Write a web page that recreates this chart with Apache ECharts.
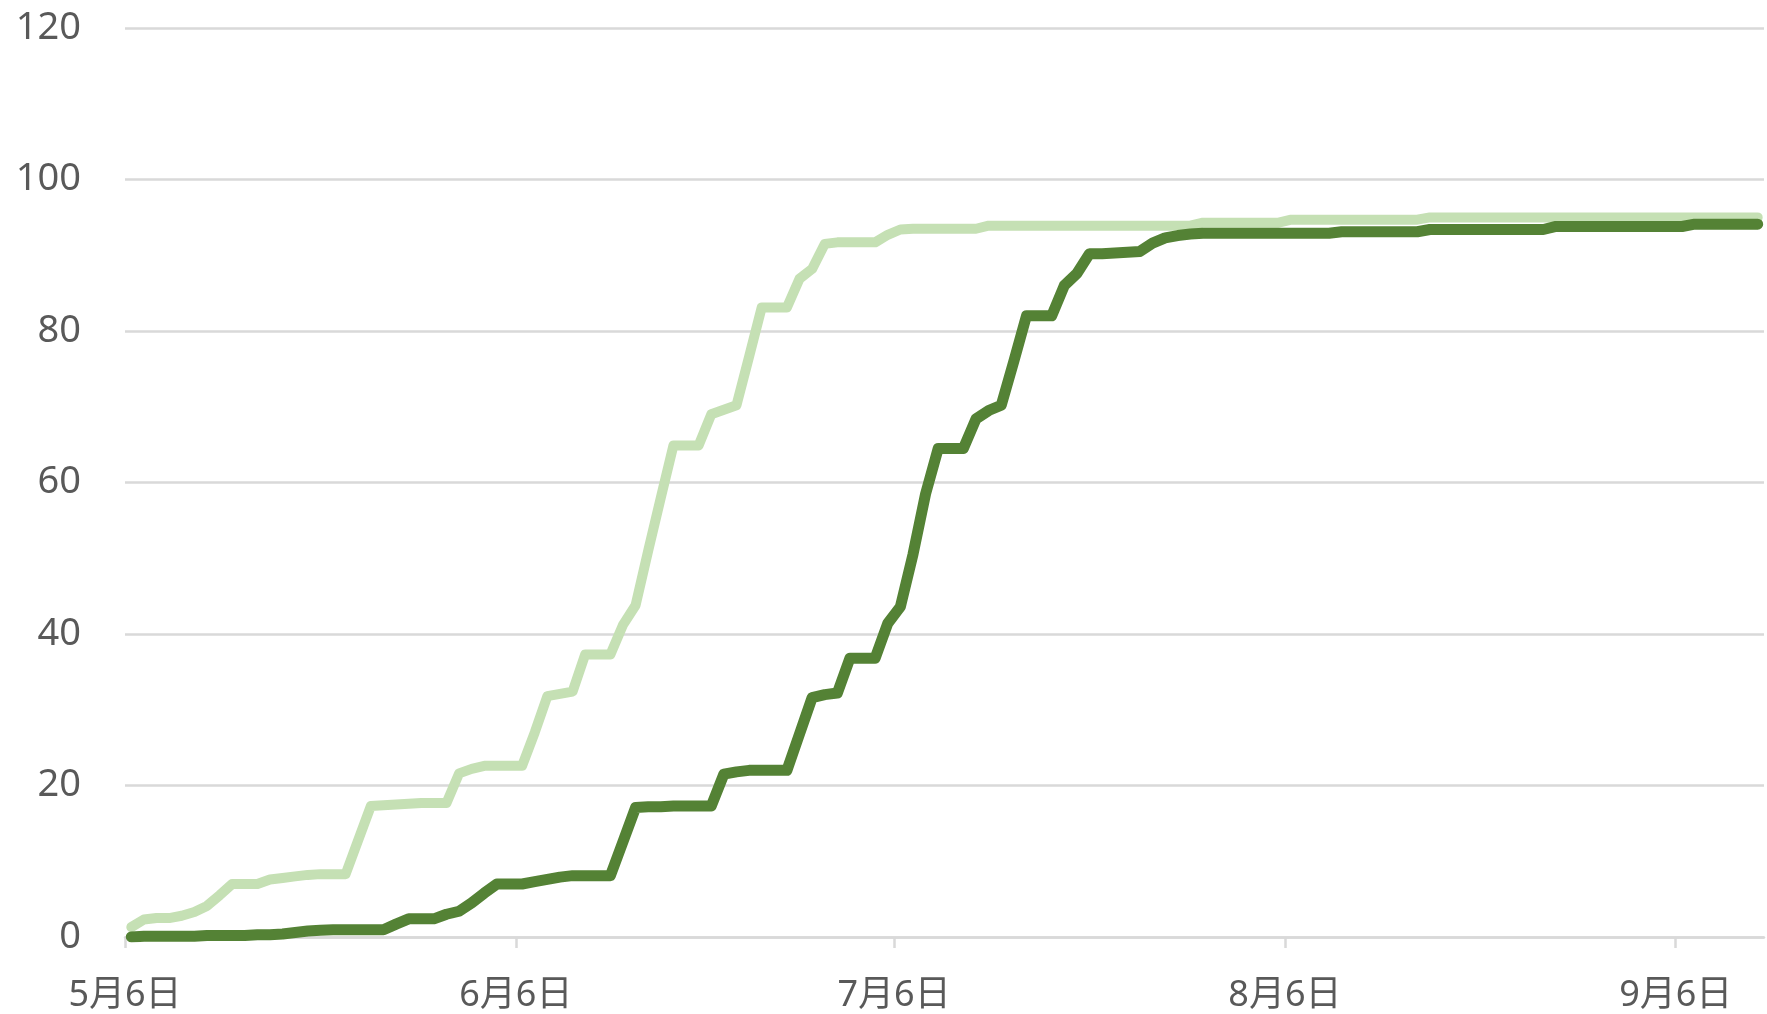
<!DOCTYPE html>
<html>
<head>
<meta charset="utf-8">
<script src="https://cdn.jsdelivr.net/npm/echarts@6/dist/echarts.min.js"></script>
<style>
  html, body { margin: 0; padding: 0; background: #fff; }
  #chart { width: 1767px; height: 1014px; }
</style>
</head>
<body>
<div id="chart"></div>
<script>
// 浅色线（先达到），每天一个值，从5月6日起
var lightValues = [
  1.3, 2.3, 2.5, 2.5, 2.8, 3.3, 4.1, 5.5, 7.0, 7.0,
  7.0, 7.6, 7.8, 8.0, 8.2, 8.3, 8.3, 8.3, 12.8, 17.3,
  17.4, 17.5, 17.6, 17.7, 17.7, 17.7, 21.6, 22.2, 22.6, 22.6,
  22.6, 22.6, 27.0, 31.8, 32.1, 32.4, 37.3, 37.3, 37.3, 41.2,
  43.8, 51.0, 58.0, 64.9, 64.9, 64.9, 69.0, 69.6, 70.2, 76.6,
  83.1, 83.1, 83.1, 86.9, 88.2, 91.5, 91.7, 91.7, 91.7, 91.7,
  92.7, 93.4, 93.5, 93.5, 93.5, 93.5, 93.5, 93.5, 93.9, 93.9,
  93.9, 93.9, 93.9, 93.9, 93.9, 93.9, 93.9, 93.9, 93.9, 93.9,
  93.9, 93.9, 93.9, 93.9, 93.9, 94.3, 94.3, 94.3, 94.3, 94.3,
  94.3, 94.3, 94.7, 94.7, 94.7, 94.7, 94.7, 94.7, 94.7, 94.7,
  94.7, 94.7, 94.7, 95.0, 95.0, 95.0, 95.0, 95.0, 95.0, 95.0,
  95.0, 95.0, 95.0, 95.0, 95.0, 95.0, 95.0, 95.0, 95.0, 95.0,
  95.0, 95.0, 95.0, 95.0, 95.0, 95.0, 95.0, 95.0, 95.0, 95.0
];
// 深色线
var darkValues = [
  0.0, 0.1, 0.1, 0.1, 0.1, 0.1, 0.2, 0.2, 0.2, 0.2,
  0.3, 0.3, 0.4, 0.6, 0.8, 0.9, 0.95, 0.95, 0.95, 0.95,
  0.95, 1.7, 2.4, 2.4, 2.4, 3.0, 3.4, 4.5, 5.8, 7.0,
  7.0, 7.0, 7.3, 7.6, 7.9, 8.1, 8.1, 8.1, 8.1, 12.6,
  17.1, 17.2, 17.2, 17.3, 17.3, 17.3, 17.3, 21.5, 21.8, 22.0,
  22.0, 22.0, 22.0, 26.8, 31.6, 32.0, 32.2, 36.8, 36.8, 36.8,
  41.4, 43.6, 50.5, 58.5, 64.5, 64.5, 64.5, 68.4, 69.5, 70.2,
  76.0, 82.0, 82.0, 82.0, 86.0, 87.6, 90.2, 90.2, 90.3, 90.4,
  90.5, 91.6, 92.3, 92.6, 92.8, 92.9, 92.9, 92.9, 92.9, 92.9,
  92.9, 92.9, 92.9, 92.9, 92.9, 92.9, 93.1, 93.1, 93.1, 93.1,
  93.1, 93.1, 93.1, 93.4, 93.4, 93.4, 93.4, 93.4, 93.4, 93.4,
  93.4, 93.4, 93.4, 93.8, 93.8, 93.8, 93.8, 93.8, 93.8, 93.8,
  93.8, 93.8, 93.8, 93.8, 94.1, 94.1, 94.1, 94.1, 94.1, 94.1
];

// 日期轴：5月6日 ~ 9月13日，每月6日一个刻度
var year = 2020, startMonth = 5, startDay = 6, axisDays = 130;
var tickDay = 6;
var yMax = 120, yStep = 20;

var DAY = 24 * 3600 * 1000;
var axisStart = Date.UTC(year, startMonth - 1, startDay);
var axisEnd = axisStart + axisDays * DAY;

// 横轴类目（仅用于刻度和标签）
var dayList = [];
for (var i = 0; i <= axisDays; i++) dayList.push(new Date(axisStart + i * DAY));
var categories = dayList.map(function (t) { return (t.getUTCMonth() + 1) + '月' + t.getUTCDate() + '日'; });
function isTick(index) { return dayList[index] && dayList[index].getUTCDate() === tickDay; }

// 每天的数据记在当天中午
function toPoints(values) {
  return values.map(function (v, k) { return [Date.UTC(year, startMonth - 1, startDay + k, 12), v]; });
}

var chart = echarts.init(document.getElementById('chart'));
var option = {
  animation: false,
  useUTC: true,
  backgroundColor: '#ffffff',
  grid: { left: 125, right: 3, top: 28, bottom: 74, containLabel: false },
  xAxis: [
    {
      type: 'category',
      data: categories,
      boundaryGap: false,
      axisLine: { show: true, lineStyle: { color: '#d9d9d9', width: 2.5 } },
      axisTick: {
        show: true,
        length: 11,
        interval: function (index) { return isTick(index); },
        lineStyle: { color: '#d9d9d9', width: 2.5 }
      },
      axisLabel: {
        interval: function (index) { return isTick(index); },
        margin: 41,
        color: '#595959',
        fontSize: 36,
        fontFamily: '"Noto Sans", "Noto Sans CJK SC", sans-serif'
      },
      splitLine: { show: false }
    },
    {
      type: 'time',
      show: false,
      min: axisStart,
      max: axisEnd,
      splitLine: { show: false }
    }
  ],
  yAxis: {
    type: 'value',
    min: 0,
    max: yMax,
    interval: yStep,
    axisLine: { show: false },
    axisTick: { show: false },
    axisLabel: {
      margin: 44,
      color: '#595959',
      fontSize: 38,
      fontFamily: '"Noto Sans", sans-serif'
    },
    splitLine: { show: true, lineStyle: { color: '#d9d9d9', width: 2.5 } }
  },
  series: [
    {
      name: 'light',
      type: 'line',
      xAxisIndex: 1,
      data: toPoints(lightValues),
      symbol: 'none',
      smooth: false,
      lineStyle: { color: '#c5e0b4', width: 10, cap: 'round', join: 'round' }
    },
    {
      name: 'dark',
      type: 'line',
      xAxisIndex: 1,
      data: toPoints(darkValues),
      symbol: 'none',
      smooth: false,
      lineStyle: { color: '#548235', width: 11, cap: 'round', join: 'round' }
    }
  ]
};
chart.setOption(option);
</script>
</body>
</html>
